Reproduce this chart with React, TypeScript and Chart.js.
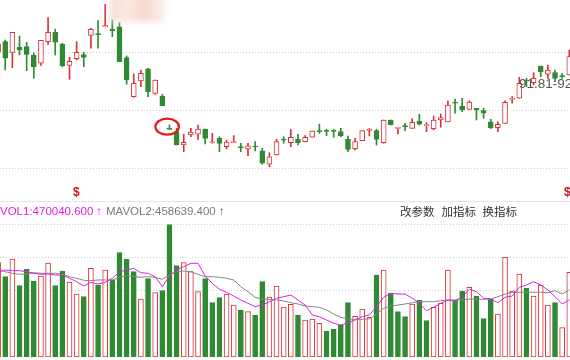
import React, { useEffect, useRef } from "react";
import { Chart, registerables } from "chart.js";

Chart.register(...registerables);

// ---- daily candles (index 0..80) ----
const opens = [
  95.0, 95.89, 94.97, 95.41, 95.46, 94.74, 94.03, 95.89, 96.7, 95.69,
  93.85, 94.42, 94.77, 96.44, 96.58, 97.16, 96.98, 97.16, 94.51, 91.15,
  92.5, 93.54, 91.44, 91.21, 88.35, 88.13, 86.98, 87.85, 87.91, 88.36,
  87.18, 87.56, 86.84, 87.18, 86.84, 86.64, 86.9, 86.47, 85.32, 86.12,
  87.47, 87.18, 87.5, 87.27, 87.65, 88.22, 88.22, 88.22, 88.13, 87.47,
  86.66, 87.35, 88.25, 88.22, 87.18, 89.14, 88.42, 88.65, 88.42, 89.05,
  88.65, 88.39, 89.14, 88.97, 90.66, 90.34, 90.06, 90.15, 89.94, 88.99,
  88.47, 88.85, 90.92, 91.01, 92.59, 92.35, 93.79, 93.08, 93.22, 92.96, 93.02,
];
const closes = [
  95.69, 94.46, 96.7, 95.17, 94.8, 93.73, 96.01, 96.7, 95.84, 93.82,
  94.2, 94.97, 94.54, 96.96, 96.49, 97.27, 96.84, 94.16, 92.59, 92.3,
  93.16, 91.58, 92.59, 90.37, 88.33, 86.98, 87.22, 88.1, 88.36, 87.56,
  87.18, 87.13, 87.24, 87.27, 86.75, 86.92, 86.81, 85.41, 85.97, 87.27,
  87.41, 87.65, 87.18, 87.65, 88.19, 88.13, 88.16, 88.16, 87.79, 86.61,
  87.27, 88.22, 88.34, 87.47, 89.14, 88.71, 88.51, 88.56, 88.94, 88.77,
  88.71, 89.14, 89.34, 90.43, 90.58, 90.0, 90.69, 90.0, 89.72, 88.47,
  88.77, 90.66, 91.01, 92.3, 92.5, 92.73, 93.3, 93.45, 92.73, 92.87, 94.6,
];
const highs = [
  96.03, 96.03, 96.7, 96.38, 95.84, 94.91, 96.01, 97.96, 96.98, 95.75,
  94.54, 95.89, 94.97, 97.04, 97.7, 99.1, 97.76, 97.53, 94.66, 93.1,
  93.45, 93.6, 92.59, 91.35, 88.71, 88.42, 87.91, 88.42, 88.71, 88.36,
  87.99, 87.7, 87.41, 87.79, 87.13, 87.13, 87.27, 86.7, 86.32, 87.47,
  87.7, 88.34, 87.91, 87.79, 88.19, 88.79, 88.34, 88.34, 88.42, 87.76,
  87.56, 88.22, 88.42, 88.34, 89.14, 89.14, 88.51, 88.85, 89.25, 89.63,
  88.91, 89.48, 89.66, 90.8, 90.95, 91.01, 90.8, 90.15, 90.15, 89.2,
  88.99, 90.8, 91.15, 92.82, 92.73, 93.22, 93.79, 93.88, 93.45, 93.16, 95.17,
];
const lows = [
  94.66, 93.45, 93.65, 94.74, 93.39, 92.73, 93.85, 95.66, 94.74, 93.73,
  92.65, 94.31, 93.73, 95.32, 95.32, 97.16, 96.32, 94.16, 92.22, 91.1,
  92.01, 91.15, 91.35, 90.37, 88.33, 86.98, 86.41, 87.7, 87.47, 87.07,
  87.13, 86.41, 86.64, 87.18, 86.41, 86.06, 86.47, 85.32, 85.11, 86.12,
  87.13, 86.84, 86.98, 87.27, 87.65, 87.99, 87.79, 87.65, 87.7, 86.41,
  86.55, 87.35, 87.76, 86.98, 87.13, 88.71, 87.93, 88.22, 88.42, 88.71,
  88.13, 88.28, 88.51, 88.97, 89.72, 89.85, 90.06, 89.14, 89.28, 88.39,
  88.13, 88.85, 90.58, 91.01, 92.01, 92.16, 92.87, 92.73, 92.44, 92.73, 93.02,
];

// ---- volume panel ----
const volumes = [
  714400, 608400, 742400, 540200, 666700, 575800, 613700, 712100, 540200, 651500,
  568200, 477300, 456800, 672000, 545500, 659100, 583400, 790200, 742400, 646200,
  439400, 593200, 487100, 502300, 1002300, 691700, 714400, 646200, 494700, 593200,
  411400, 449300, 477300, 394000, 356100, 343200, 318200, 570500, 454600, 537900,
  378800, 399300, 318200, 280300, 287900, 255300, 197000, 212100, 242400, 411400,
  308300, 363600, 300800, 621200, 659100, 482600, 343200, 305300, 401500, 431800,
  275000, 376500, 406800, 659100, 431800, 500000, 528000, 462100, 290200, 439400,
  325800, 755300, 500000, 628800, 522700, 462100, 545500, 394000, 411400, 222000, 641700,
];
// 1 = close up vs previous close (red), 0 = down (green)
const volumeUp = [
  1, 0, 1, 0, 0, 0, 1, 1, 0, 0,
  1, 1, 0, 1, 0, 1, 0, 0, 0, 0,
  1, 0, 1, 0, 0, 0, 1, 1, 1, 0,
  0, 0, 1, 1, 0, 1, 0, 0, 1, 1,
  1, 1, 0, 1, 1, 1, 0, 0, 0, 0,
  1, 1, 1, 0, 1, 0, 0, 0, 1, 0,
  0, 1, 1, 1, 0, 0, 1, 0, 0, 0,
  1, 1, 1, 1, 0, 1, 1, 1, 0, 1, 1,
];
const mavol1 = [
  638700, 659100, 653800, 653800, 646200, 634100, 626500, 628800, 621200, 621200,
  596200, 570500, 537900, 565900, 553000, 565900, 596200, 646200, 659100, 672000,
  638700, 634100, 608400, 532600, 613700, 659100, 684100, 709900, 709900, 613700,
  558300, 512900, 490200, 462100, 431800, 406800, 381100, 393900, 419000, 444700,
  456800, 469700, 431800, 393900, 318200, 305300, 280300, 255300, 242400, 259900,
  280300, 305300, 318200, 381100, 452300, 482600, 477300, 477300, 444700, 406800,
  350800, 376500, 406800, 431800, 426500, 456800, 512900, 494700, 444700, 439400,
  411400, 452300, 462100, 528000, 545500, 570500, 545500, 507600, 456800, 401500, 431800,
];
const mavol2 = [
  672000, 646200, 634100, 626500, 628800, 638700, 634100, 634100, 634100, 626500,
  608400, 596200, 581100, 578000, 583400, 583400, 583400, 603800, 615900, 608400,
  603800, 608400, 603800, 588700, 621200, 646200, 651500, 646200, 626500, 608400,
  608400, 603800, 596200, 583400, 532600, 494700, 452300, 439400, 437100, 431800,
  424300, 411400, 401500, 386400, 381100, 376500, 356100, 325800, 300800, 287900,
  285600, 285600, 287900, 325800, 368900, 386400, 393900, 401500, 411400, 419000,
  419000, 419000, 426500, 431800, 431800, 431800, 439400, 439400, 437100, 439400,
  456800, 477300, 490200, 490200, 490200, 490200, 490200, 487100, 502300, 477300, 507600,
];

const priceGrid = [85, 90, 95];
const volumeGrid = [500000, 750000, 1000000];
const rangeLabel = "91.81-92";
const vol1Label = "VOL1:470040.600";
const vol2Label = "MAVOL2:458639.400";
const menuItems = ["改参数", "加指标", "换指标"];

const UP = "#d8323a";
const DOWN = "#2f8a33";
const X_MIN = 0.266;
const X_MAX = 80.1;

const xAxis = () => ({
  type: "linear",
  min: X_MIN,
  max: X_MAX,
  offset: false,
  display: false,
  grid: { offset: false },
});

const gridAxis = (min: number, max: number, ticks: number[]) => ({
  type: "linear",
  min,
  max,
  afterFit: (s: any) => {
    s.width = 0;
  },
  afterBuildTicks: (s: any) => {
    s.ticks = ticks.map((v) => ({ value: v }));
  },
  ticks: { display: false },
  grid: { color: "#cdcdcd", lineWidth: 1, drawTicks: false, borderDash: [1, 2] },
  border: { display: false, dash: [1, 2] },
});

function CandleChart() {
  const ref = useRef<HTMLCanvasElement>(null);
  useEffect(() => {
    const idx = opens.map((_, i) => i);
    const up = idx.map((i) => closes[i] >= opens[i]);
    const oval = {
      id: "oval",
      afterDatasetsDraw(chart: any) {
        const { ctx, scales } = chart;
        const cx = scales.x.getPixelForValue(24) - 2.3;
        const cy = scales.y.getPixelForValue(highs[24]) + 1.7;
        ctx.save();
        ctx.strokeStyle = "#e41a1c";
        ctx.lineWidth = 2.2;
        ctx.beginPath();
        ctx.ellipse(cx, cy, 11.8, 8, 0, 0, Math.PI * 2);
        ctx.stroke();
        ctx.restore();
      },
    };
    const chart = new Chart(ref.current as HTMLCanvasElement, {
      type: "bar",
      data: {
        datasets: [
          {
            label: "body",
            data: idx.map((i) => ({ x: i, y: [opens[i], closes[i]] })),
            backgroundColor: idx.map((i) => (up[i] ? "#ffffff" : DOWN)),
            borderColor: idx.map((i) => (up[i] ? UP : DOWN)),
            borderWidth: 1,
            borderSkipped: false,
            barThickness: 5,
            minBarLength: 1,
            grouped: false,
            order: 0,
          } as any,
          {
            label: "wick",
            data: idx.map((i) => ({ x: i, y: [lows[i], highs[i]] })),
            backgroundColor: idx.map((i) => (up[i] ? UP : DOWN)),
            borderWidth: 0,
            barThickness: 1,
            minBarLength: 1,
            grouped: false,
            order: 1,
          } as any,
        ],
      },
      options: {
        responsive: false,
        animation: false,
        events: [],
        layout: { padding: 0 },
        plugins: { legend: { display: false }, tooltip: { enabled: false } },
        scales: {
          x: xAxis() as any,
          y: gridAxis(82.242, 99.483, priceGrid) as any,
        },
      } as any,
      plugins: [oval],
    });
    return () => chart.destroy();
  }, []);
  return <canvas ref={ref} width={570} height={200} style={{ position: "absolute", left: 0, top: 0 }} />;
}

function VolumeChart() {
  const ref = useRef<HTMLCanvasElement>(null);
  useEffect(() => {
    const idx = volumes.map((_, i) => i);
    const chart = new Chart(ref.current as HTMLCanvasElement, {
      type: "bar",
      data: {
        datasets: [
          {
            type: "line",
            label: "MAVOL1",
            data: idx.map((i) => ({ x: i, y: mavol1[i] })),
            borderColor: "#dd22dd",
            borderWidth: 1,
            pointRadius: 0,
            tension: 0,
            order: 0,
          } as any,
          {
            type: "line",
            label: "MAVOL2",
            data: idx.map((i) => ({ x: i, y: mavol2[i] })),
            borderColor: "#858585",
            borderWidth: 1,
            pointRadius: 0,
            tension: 0,
            order: 0,
          } as any,
          {
            label: "VOL",
            data: idx.map((i) => ({ x: i, y: volumes[i] })),
            backgroundColor: idx.map((i) => (volumeUp[i] ? "#ffffff" : DOWN)),
            borderColor: idx.map((i) => (volumeUp[i] ? UP : DOWN)),
            borderWidth: 1,
            borderSkipped: false,
            barThickness: 5,
            grouped: false,
            order: 1,
          } as any,
        ],
      },
      options: {
        responsive: false,
        animation: false,
        events: [],
        layout: { padding: 0 },
        plugins: { legend: { display: false }, tooltip: { enabled: false } },
        scales: {
          x: xAxis() as any,
          y: gridAxis(0, 1022700, volumeGrid) as any,
        },
      } as any,
    });
    return () => chart.destroy();
  }, []);
  return <canvas ref={ref} width={570} height={135} style={{ position: "absolute", left: 0, top: 222 }} />;
}

export default function App() {
  const latin = '"Liberation Sans", Arial, sans-serif';
  const cjk = '"Noto Sans CJK SC", "Liberation Sans", sans-serif';
  return (
    <div
      style={{
        position: "fixed",
        left: 0,
        top: 0,
        width: 570,
        height: 360,
        overflow: "hidden",
        background: "#ffffff",
        fontFamily: latin,
      }}
    >
      <CandleChart />
      <div
        style={{
          position: "absolute",
          left: 110,
          top: -4,
          width: 56,
          height: 26,
          background: "linear-gradient(90deg, #f7d6cc 0%, #fbe7e1 30%, #f6d4c9 60%, #fdf1ed 100%)",
          filter: "blur(3px)",
          opacity: 0.9,
        }}
      />
      <span
        style={{
          position: "absolute",
          left: 519,
          top: 76,
          fontSize: 13.5,
          lineHeight: "16px",
          color: "#555555",
          whiteSpace: "nowrap",
        }}
      >
        {rangeLabel}
      </span>
      <span style={{ position: "absolute", left: 73, top: 185, fontSize: 12, fontWeight: "bold", color: "#c8141c", lineHeight: "14px" }}>$</span>
      <span style={{ position: "absolute", left: 564, top: 185, fontSize: 12, fontWeight: "bold", color: "#c8141c", lineHeight: "14px" }}>$</span>
      <div style={{ position: "absolute", left: 0, top: 201, width: 570, height: 1, background: "#e4e4e4" }} />
      <div style={{ position: "absolute", left: 0, top: 204, fontSize: 11.5, lineHeight: "14px", whiteSpace: "nowrap", color: "#e01ee0" }}>
        {vol1Label}
        <span style={{ marginLeft: 3 }}>↑</span>
      </div>
      <div style={{ position: "absolute", left: 106, top: 204, fontSize: 11.5, lineHeight: "14px", whiteSpace: "nowrap", color: "#7a7a7a" }}>
        {vol2Label}
        <span style={{ marginLeft: 3, color: "#555" }}>↑</span>
      </div>
      {menuItems.map((t, i) => (
        <span
          key={t}
          style={{
            position: "absolute",
            left: [400, 441.5, 482.5][i],
            top: 204,
            fontSize: 11.5,
            lineHeight: "14px",
            color: "#333333",
            fontFamily: cjk,
            whiteSpace: "nowrap",
          }}
        >
          {t}
        </span>
      ))}
      <VolumeChart />
    </div>
  );
}
